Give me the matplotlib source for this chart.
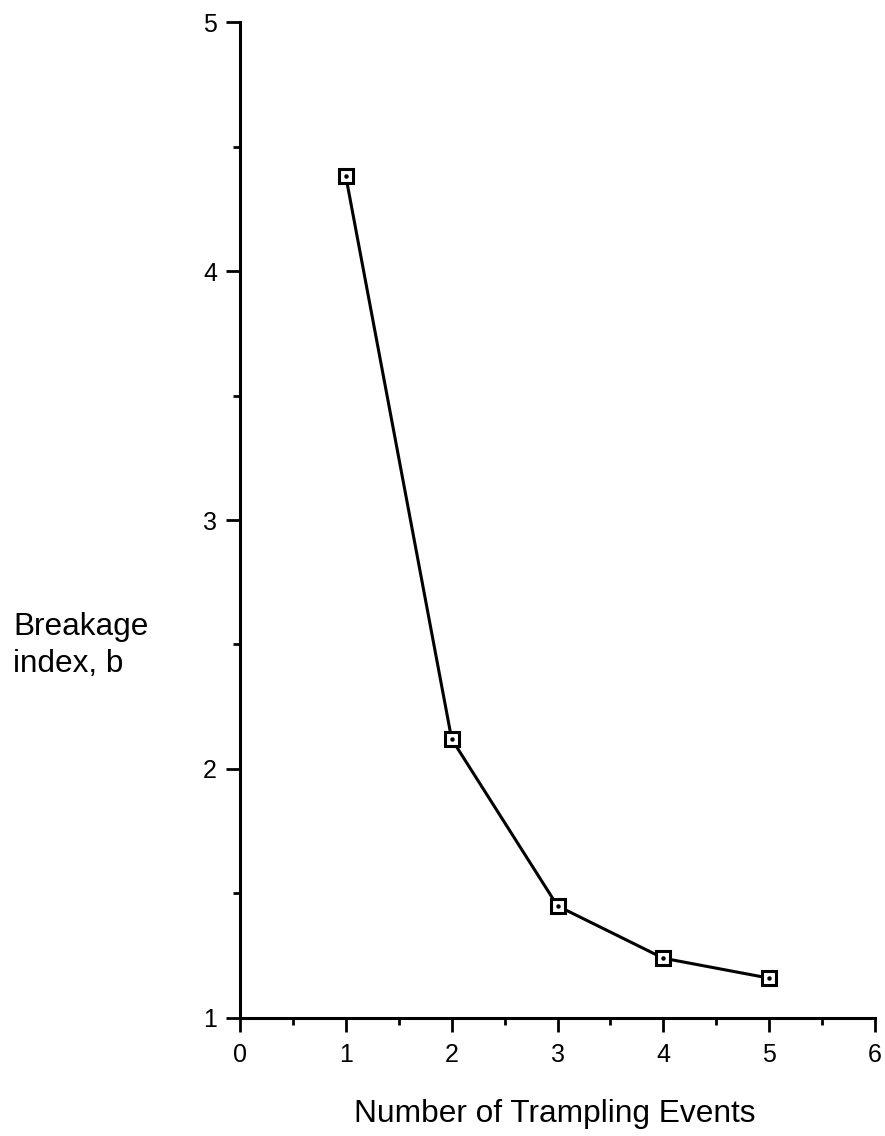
import matplotlib
matplotlib.use("Agg")
import matplotlib.pyplot as plt
from matplotlib.ticker import MultipleLocator

plt.rcParams['font.family'] = ['Liberation Sans', 'DejaVu Sans']

# data
events = [1, 2, 3, 4, 5]
breakage = [4.38, 2.12, 1.45, 1.24, 1.16]

fig = plt.figure(figsize=(8.85, 11.36), dpi=100)
ax = fig.add_axes([0.2712, 0.1039, 0.7175, 0.8767])

ax.plot(events, breakage, color='black', linewidth=2.2, zorder=2)
ax.plot(events, breakage, linestyle='none', marker='s', markersize=9.5,
        markerfacecolor='white', markeredgecolor='black', markeredgewidth=2.2, zorder=3)
ax.plot(events, breakage, linestyle='none', marker='o', markersize=2.2,
        color='black', zorder=4)

ax.set_xlim(0, 6)
ax.set_ylim(1, 5)
ax.xaxis.set_major_locator(MultipleLocator(1))
ax.xaxis.set_minor_locator(MultipleLocator(0.5))
ax.yaxis.set_major_locator(MultipleLocator(1))
ax.yaxis.set_minor_locator(MultipleLocator(0.5))

for side in ['top', 'right']:
    ax.spines[side].set_visible(False)
for side in ['left', 'bottom']:
    ax.spines[side].set_linewidth(2.2)

ax.tick_params(which='major', direction='out', width=2, labelsize=18)
ax.tick_params(axis='x', which='major', length=10, pad=8)
ax.tick_params(axis='y', which='major', length=10, pad=6.5)
ax.tick_params(which='minor', direction='out', length=5, width=2)

# axis titles placed as in the original
fig.text(0.627, 0.0123, 'Number of Trampling Events', fontsize=22.8,
         ha='center', va='baseline')
fig.text(0.0147, 0.441, 'Breakage', fontsize=22.7, ha='left', va='baseline')
fig.text(0.0147, 0.4085, 'index, b', fontsize=22.7, ha='left', va='baseline')

fig.savefig('out.png', dpi=100)
